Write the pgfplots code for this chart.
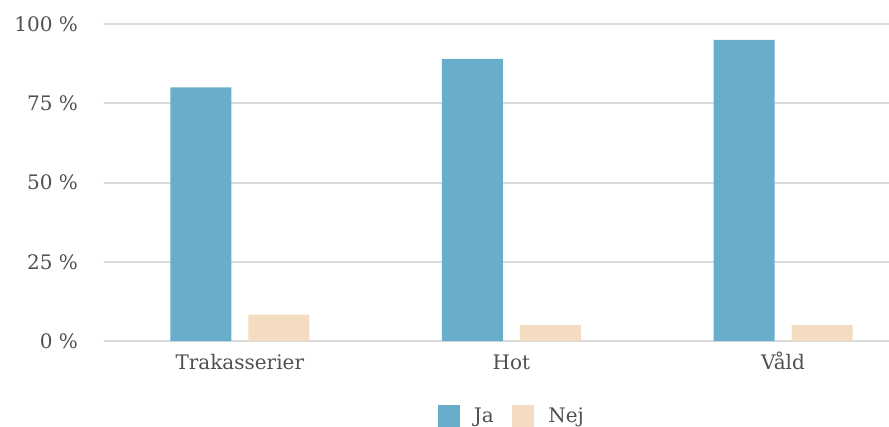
\documentclass[border=0pt]{standalone}
\usepackage{pgfplots}
\pgfplotsset{compat=1.18}
\usepackage{fontspec}
\setmainfont{DejaVu Serif}
\definecolor{jaC}{HTML}{68AECB}
\definecolor{nejC}{HTML}{F3DCBF}
\definecolor{gridC}{HTML}{DADADA}
\definecolor{txtC}{HTML}{505050}
\begin{document}
\begin{tikzpicture}
\begin{axis}[
  scale only axis,
  width=588.75pt, height=237.75pt,
  ybar=12.75pt, bar width=45.75pt,
  xmin=-0.5, xmax=2.39,
  ymin=0, ymax=100,
  xtick={0,1,2},
  xticklabels={Trakasserier,Hot,Våld},
  ytick={0,25,50,75,100},
  yticklabels={0 \%,25 \%,50 \%,75 \%,100 \%},
  axis line style={draw=none},
  major tick length=0pt,
  ymajorgrids,
  grid style={gridC, line width=1.5pt},
  tick label style={font=\fontsize{15}{18}\selectfont, text=txtC},
  yticklabel style={anchor=east, xshift=-16pt},
  xticklabel style={anchor=base, yshift=-21pt},
  /pgf/number format/assume math mode=true,
  clip=false,
  legend style={at={(0.52,-0.2366)}, anchor=center, draw=none, fill=none,
    legend columns=2, font=\fontsize{15}{18}\selectfont, text=txtC,
    /tikz/every odd column/.append style={column sep=8.5pt},
    /tikz/every even column/.append style={column sep=12pt}},
  legend image code/.code={\fill[#1] (0pt,-8pt) rectangle (16.5pt,8.5pt);},
]
\addplot[fill=jaC, draw=none] coordinates {(0,80) (1,89) (2,95)};
\addplot[fill=nejC, draw=none] coordinates {(0,8.3) (1,5) (2,5)};
\legend{Ja,Nej}
\end{axis}
\pgfresetboundingbox
\path (-78pt,-63.75pt) rectangle (588.75pt,255.75pt);
\end{tikzpicture}
\end{document}
